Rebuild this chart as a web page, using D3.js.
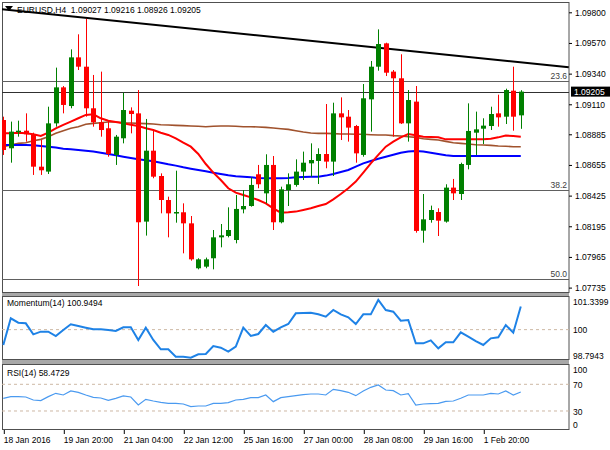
<!DOCTYPE html>
<html>
<head>
<meta charset="utf-8">
<title>EURUSD H4</title>
<script src="https://d3js.org/d3.v7.min.js"></script>
<style>
  body { margin: 0; background: #fff; }
  svg { font-family: "Liberation Sans", Arial, sans-serif; font-size: 8.5px; }
</style>
</head>
<body>
<svg width="610" height="450" id="chart"></svg>
<script>
// H4 candles
var opens = [1.08992,1.08780,1.08902,1.08912,1.08887,1.08642,1.08605,1.08967,1.09237,1.09097,
  1.09462,1.09392,1.09080,1.08975,1.08930,1.08730,1.08855,1.09062,1.09042,1.08230,
  1.08762,1.08572,1.08392,1.08297,1.08300,1.08217,1.07880,1.07892,1.07955,1.08112,
  1.08122,1.08092,1.08322,1.08347,1.08585,1.08442,1.08655,1.08225,1.08467,1.08505,
  1.08605,1.08667,1.08685,1.08737,1.08680,1.09042,1.09017,1.08947,1.08730,1.09147,
  1.09392,1.09567,1.09355,1.09305,1.08967,1.09130,1.08162,1.08242,1.08302,1.08230,
  1.08485,1.08437,1.08655,1.08897,1.08927,1.08947,1.09042,1.09017,1.09212,1.09027];
var highs = [1.09017,1.08980,1.08987,1.09042,1.08897,1.08842,1.09092,1.09385,1.09247,1.09522,
  1.09635,1.09750,1.09330,1.09355,1.08987,1.08880,1.09197,1.09087,1.09217,1.09000,
  1.08917,1.08592,1.08417,1.08612,1.08367,1.08272,1.07955,1.07960,1.08167,1.08212,
  1.08337,1.08430,1.08467,1.08562,1.08655,1.08735,1.08722,1.08492,1.08592,1.08697,
  1.08755,1.08817,1.08780,1.09112,1.09122,1.09162,1.09067,1.08955,1.09262,1.09435,
  1.09672,1.09572,1.09367,1.09485,1.09217,1.09247,1.08437,1.08350,1.08330,1.08510,
  1.08550,1.08672,1.09117,1.09055,1.09005,1.09092,1.09182,1.09227,1.09392,1.09216];
var lows = [1.08730,1.08672,1.08867,1.08830,1.08580,1.08580,1.08587,1.08942,1.09042,1.09080,
  1.09367,1.09017,1.08942,1.08867,1.08717,1.08655,1.08817,1.08892,1.07747,1.08125,
  1.08555,1.08292,1.08112,1.08222,1.07992,1.07937,1.07872,1.07880,1.07872,1.08037,
  1.08112,1.08067,1.08292,1.08342,1.08480,1.08367,1.08167,1.08217,1.08347,1.08492,
  1.08542,1.08567,1.08512,1.08630,1.08572,1.08842,1.08830,1.08672,1.08717,1.08905,
  1.09362,1.09322,1.08867,1.08962,1.08830,1.08147,1.08072,1.08222,1.08122,1.08222,
  1.08392,1.08392,1.08622,1.08730,1.08812,1.08917,1.08942,1.08962,1.08912,1.08926];
var closes = [1.08767,1.08905,1.08912,1.08885,1.08642,1.08615,1.08967,1.09237,1.09105,1.09462,
  1.09392,1.09080,1.08975,1.08917,1.08737,1.08867,1.09067,1.09037,1.08225,1.08762,
  1.08567,1.08392,1.08292,1.08302,1.08217,1.07947,1.07947,1.07947,1.08112,1.08127,
  1.08167,1.08325,1.08347,1.08505,1.08510,1.08655,1.08225,1.08472,1.08510,1.08605,
  1.08672,1.08692,1.08737,1.08680,1.09042,1.09012,1.08935,1.08742,1.09155,1.09392,
  1.09562,1.09347,1.09305,1.08967,1.09142,1.08160,1.08247,1.08317,1.08237,1.08485,
  1.08442,1.08662,1.08910,1.08922,1.08950,1.09037,1.09012,1.09217,1.09017,1.09205];

// moving averages (red, brown, blue)
var maRed = [1.08892,1.08892,1.08897,1.08892,1.08885,1.08872,1.08897,1.08930,1.08955,1.08980,
  1.09005,1.09030,1.09035,1.09005,1.08987,1.08977,1.08967,1.08957,1.08947,1.08930,
  1.08917,1.08897,1.08880,1.08855,1.08822,1.08792,1.08737,1.08662,1.08597,1.08542,
  1.08480,1.08447,1.08430,1.08412,1.08392,1.08367,1.08330,1.08297,1.08300,1.08305,
  1.08317,1.08330,1.08347,1.08362,1.08397,1.08437,1.08480,1.08530,1.08597,1.08667,
  1.08730,1.08792,1.08830,1.08862,1.08887,1.08877,1.08867,1.08865,1.08862,1.08847,
  1.08847,1.08847,1.08847,1.08847,1.08847,1.08852,1.08862,1.08875,1.08872,1.08867];
var maBrown = [1.08792,1.08805,1.08817,1.08822,1.08837,1.08847,1.08867,1.08892,1.08912,1.08930,
  1.08942,1.08960,1.08967,1.08972,1.08977,1.08977,1.08972,1.08970,1.08967,1.08965,
  1.08962,1.08957,1.08955,1.08952,1.08950,1.08947,1.08945,1.08942,1.08945,1.08947,
  1.08947,1.08945,1.08942,1.08942,1.08940,1.08937,1.08932,1.08927,1.08922,1.08912,
  1.08902,1.08895,1.08892,1.08892,1.08890,1.08887,1.08887,1.08885,1.08885,1.08882,
  1.08880,1.08880,1.08875,1.08872,1.08867,1.08862,1.08852,1.08847,1.08842,1.08832,
  1.08822,1.08817,1.08812,1.08807,1.08805,1.08802,1.08797,1.08795,1.08792,1.08792];
var maBlue = [1.08805,1.08805,1.08805,1.08805,1.08802,1.08797,1.08792,1.08785,1.08777,1.08772,
  1.08767,1.08762,1.08755,1.08747,1.08737,1.08727,1.08717,1.08707,1.08697,1.08690,
  1.08682,1.08672,1.08660,1.08650,1.08637,1.08627,1.08617,1.08607,1.08597,1.08587,
  1.08577,1.08570,1.08567,1.08562,1.08557,1.08555,1.08555,1.08555,1.08557,1.08562,
  1.08565,1.08567,1.08567,1.08575,1.08587,1.08602,1.08617,1.08642,1.08667,1.08685,
  1.08702,1.08717,1.08732,1.08747,1.08755,1.08760,1.08755,1.08747,1.08737,1.08727,
  1.08722,1.08722,1.08722,1.08722,1.08722,1.08722,1.08722,1.08722,1.08722,1.08722];

var momentum = [99.369,100.464,100.286,100.259,99.807,99.917,99.917,99.739,99.985,100.218,
  100.149,100.081,100.012,100.012,99.985,99.944,100.094,100.094,99.575,100.081,
  99.575,99.191,99.191,98.890,98.890,98.849,98.986,99.000,99.328,99.260,
  99.095,99.301,100.081,99.739,99.821,100.190,99.917,100.094,100.231,100.669,
  100.683,100.697,100.628,100.532,100.806,100.628,100.505,100.231,100.628,100.628,
  101.217,100.806,100.738,100.368,100.396,99.438,99.438,99.561,99.232,99.479,
  99.479,99.889,99.711,99.533,99.369,99.643,99.684,100.190,99.876,100.9494];
var rsi = [49,51.5,51.5,51,46.5,45.5,51.5,56.5,54,60,
  58,54,50.5,49.5,46,49,52.5,51,39,47.5,
  45,43,41.5,41.5,40.5,36.5,37.5,37.5,41.5,41.5,
  42.5,46.5,47.5,50,50,54,44,50,51.5,53,
  54.5,55.5,55.5,54,62.5,60.5,58,53,60,65.5,
  69,61.5,60.5,54,56,39,40.5,41,41.5,44.5,
  45,49,54,54,54,56.5,55.5,60,54,58.4729];

var priceTicks = [1.09800,1.09570,1.09340,1.09110,1.08885,1.08655,1.08425,1.08195,1.07965,1.07735];
var momTicks = [101.3399, 100, 98.7943];
var momTickText = ["101.3399", "100", "98.7943"];
var rsiTicks = [100, 70, 30, 0];
var rsiTickText = ["100", "70", "30", "0"];
var dateTicks = [0, 8, 16, 24, 32, 40, 48, 56, 64];
var dateLabels = ["18 Jan 2016","19 Jan 20:00","21 Jan 04:00","22 Jan 12:00","25 Jan 16:00",
  "27 Jan 00:00","28 Jan 08:00","29 Jan 16:00","1 Feb 20:00"];
var fibLevels = [1.09288, 1.08464, 1.07800];
var fibNames = ["23.6", "38.2", "50.0"];
var trendLine = [[-0.44, 1.09825], [75.4, 1.09388]];
var lastPrice = 1.09205;
var title = "EURUSD,H4  1.09027 1.09216 1.08926 1.09205";

var svg = d3.select("#chart");
var right = 569;
var bars = d3.range(opens.length);

var x = d3.scaleLinear().domain([-0.44, 75.43]).range([0, right]);
var y = d3.scaleLinear().domain([1.07735, 1.09800]).range([287.6, 12.3]);
var yMom = d3.scaleLinear().domain([98.7943, 101.3399]).range([359, 297]);
var yRsi = d3.scaleLinear().domain([0, 100]).range([431, 364.3]);

// panel frames, with grey gaps between them
svg.append("rect").attr("x", 2).attr("y", 293).attr("width", right - 2).attr("height", 3).attr("fill", "#a8a8a8");
svg.append("rect").attr("x", 2).attr("y", 360).attr("width", right - 2).attr("height", 4).attr("fill", "#a8a8a8");
var panels = [[2, 293], [296, 360], [364, 430]];
panels.forEach(function(p, k) {
  svg.append("clipPath").attr("id", "clip" + k)
    .append("rect").attr("x", 2).attr("y", p[0]).attr("width", right - 2).attr("height", p[1] - p[0]);
  svg.append("rect")
    .attr("x", 2.5).attr("y", p[0] + 0.5)
    .attr("width", right - 2.5).attr("height", p[1] - p[0] - 1)
    .attr("fill", "#fff").attr("stroke", "#505050").attr("stroke-width", 1);
});

var main = svg.append("g").attr("clip-path", "url(#clip0)");

// fibo levels + last price line
main.selectAll(".fib").data(fibLevels).enter().append("line")
  .attr("x1", 2).attr("x2", right)
  .attr("y1", function(d){ return Math.round(y(d)) + 0.5; })
  .attr("y2", function(d){ return Math.round(y(d)) + 0.5; })
  .attr("stroke", "#606060").attr("stroke-width", 1);
main.selectAll(".fibtxt").data(fibLevels).enter().append("text")
  .attr("x", right - 2).attr("y", function(d){ return y(d) - 2; })
  .attr("text-anchor", "end").attr("fill", "#404040")
  .text(function(d, i){ return fibNames[i]; });
main.append("line")
  .attr("x1", 2).attr("x2", right)
  .attr("y1", Math.round(y(lastPrice)) + 0.5).attr("y2", Math.round(y(lastPrice)) + 0.5)
  .attr("stroke", "#303030").attr("stroke-width", 1);

// trend line
main.append("path")
  .attr("d", d3.line().x(function(d){ return x(d[0]); }).y(function(d){ return y(d[1]); })(trendLine))
  .attr("stroke", "#000").attr("stroke-width", 2).attr("fill", "none");

// moving averages
function maLine(vals, col, w) {
  main.append("path")
    .attr("d", d3.line().x(function(d, i){ return x(i); }).y(function(d){ return y(d); })(vals))
    .attr("stroke", col).attr("stroke-width", w).attr("fill", "none");
}
maLine(maBrown, "#a0522d", 1.6);
maLine(maBlue, "#0000ff", 2);
maLine(maRed, "#ff0000", 2);

// candles
var candle = main.selectAll(".c").data(bars).enter().append("g");
function col(i){ return closes[i] >= opens[i] ? "#008000" : "#ff0000"; }
candle.append("line")
  .attr("x1", function(i){ return Math.round(x(i)) + 0.5; })
  .attr("x2", function(i){ return Math.round(x(i)) + 0.5; })
  .attr("y1", function(i){ return y(highs[i]); })
  .attr("y2", function(i){ return y(lows[i]); })
  .attr("stroke", col).attr("stroke-width", 1);
candle.append("rect")
  .attr("x", function(i){ return Math.round(x(i)) - 2; })
  .attr("width", 5)
  .attr("y", function(i){ return y(Math.max(opens[i], closes[i])); })
  .attr("height", function(i){ return Math.max(1.5, Math.abs(y(opens[i]) - y(closes[i]))); })
  .attr("fill", col);

main.append("path").attr("d", "M5,6 L13,6 L9,11 Z").attr("fill", "#000");
main.append("text").attr("x", 17).attr("y", 13).attr("fill", "#000")
  .attr("xml:space", "preserve").style("white-space", "pre").text(title);

// momentum panel
var mom = svg.append("g").attr("clip-path", "url(#clip1)");
mom.append("line").attr("x1", 2).attr("x2", right)
  .attr("y1", yMom(100)).attr("y2", yMom(100))
  .attr("stroke", "#cdb8a4").attr("stroke-dasharray", "3,3");
mom.append("path")
  .attr("d", d3.line().x(function(d, i){ return x(i); }).y(function(d){ return yMom(d); })(momentum))
  .attr("stroke", "#1e82e6").attr("stroke-width", 2).attr("fill", "none");
mom.append("text").attr("x", 7).attr("y", 306).text("Momentum(14) 100.9494");

// rsi panel
var rs = svg.append("g").attr("clip-path", "url(#clip2)");
rs.selectAll(".lvl").data([70, 30]).enter().append("line")
  .attr("x1", 2).attr("x2", right)
  .attr("y1", function(d){ return yRsi(d); }).attr("y2", function(d){ return yRsi(d); })
  .attr("stroke", "#cdb8a4").attr("stroke-dasharray", "3,3");
rs.append("path")
  .attr("d", d3.line().x(function(d, i){ return x(i); }).y(function(d){ return yRsi(d); })(rsi))
  .attr("stroke", "#4a9af0").attr("stroke-width", 1.2).attr("fill", "none");
rs.append("text").attr("x", 7).attr("y", 376).text("RSI(14) 58.4729");

// axes
function styleAxis(g) {
  g.select(".domain").remove();
  g.selectAll("text").attr("font-size", "8.5px")
    .attr("font-family", "Liberation Sans, Arial, sans-serif").attr("fill", "#000");
  g.selectAll("line").attr("stroke", "#000");
}
var ax = svg.append("g").attr("transform", "translate(" + right + ",0)")
  .call(d3.axisRight(y).tickValues(priceTicks).tickSize(3).tickPadding(3).tickFormat(d3.format(".5f")));
styleAxis(ax);

var axX = svg.append("g").attr("transform", "translate(0,430)")
  .call(d3.axisBottom(x).tickValues(dateTicks).tickSize(4).tickPadding(2)
    .tickFormat(function(d, i){ return dateLabels[i]; }));
styleAxis(axX);
axX.selectAll("text").attr("text-anchor", "start").attr("dx", "0px").attr("y", 7);
axX.selectAll("line").attr("transform", "translate(0.5,0)");

// last price tag
svg.append("rect").attr("x", 571).attr("y", y(lastPrice) - 5).attr("width", 39).attr("height", 10).attr("fill", "#000");
svg.append("text").attr("x", 574).attr("y", y(lastPrice) + 3.2).attr("fill", "#fff").text(d3.format(".5f")(lastPrice));

// indicator scale labels (MT4 nudges the end labels inside the window)
var momShift = [5, 0, -3];
momTicks.forEach(function(v, i) {
  svg.append("text")
    .attr("x", 573).attr("y", yMom(v) + momShift[i] + 3)
    .attr("fill", "#000").text(momTickText[i]);
});
var rsiShift = [6, 0.7, 0.7, -6];
var rsiAxis = svg.append("g").attr("transform", "translate(573,0)");
rsiTicks.forEach(function(v, i) {
  rsiAxis.append("g")
    .attr("transform", "translate(0," + (yRsi(v) + rsiShift[i] + 3) + ")")
    .append("text").attr("x", 0).attr("y", 0)
    .attr("fill", "#000").text(rsiTickText[i]);
});
</script>
</body>
</html>
